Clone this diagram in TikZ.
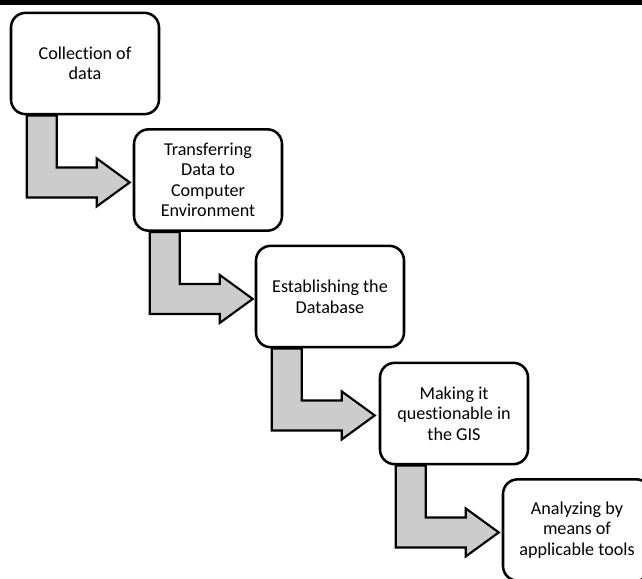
\documentclass[tikz,border=0pt]{standalone}
\usepackage{fontspec}
\setmainfont[Ligatures={NoCommon}]{Carlito}
\usetikzlibrary{calc}

\begin{document}
\begin{tikzpicture}[
  x=0.75pt, y=-0.75pt,
  stage/.style={draw, line width=1.9pt, rounded corners=11pt, fill=white,
    minimum width=111pt, minimum height=76pt, inner sep=2pt, align=center,
    font=\fontsize{13.6}{15.4}\selectfont},
  flowarrow/.style={draw, line width=1.6pt, fill=black!20, line join=miter}
]
\useasboundingbox (0,0) rectangle (642,578);
\clip (0,0) rectangle (642,578);
\fill (0,0) rectangle (642,5);

\node[stage] (collect) at (85,63.5) {Collection of\\data};
\node[stage] (transfer) at (208,180) {Transferring\\Data to\\Computer\\Environment};
\node[stage] (database) at (330,296.5) {Establishing the\\Database};
\node[stage] (query) at (454,413.5) {Making it\\questionable in\\the GIS};
\node[stage] (analyze) at (577,530) {Analyzing by\\means of\\applicable tools};

\foreach \from in {collect, transfer, database, query}
  \draw[flowarrow] ($(\from.south west)+(17,0)$) -- ++(30,0) -- ++(0,52)
    -- ++(40,0) -- ++(0,-9) -- ++(33,24) -- ++(-33,24) -- ++(0,-9)
    -- ++(-70,0) -- cycle;
\end{tikzpicture}
\end{document}
